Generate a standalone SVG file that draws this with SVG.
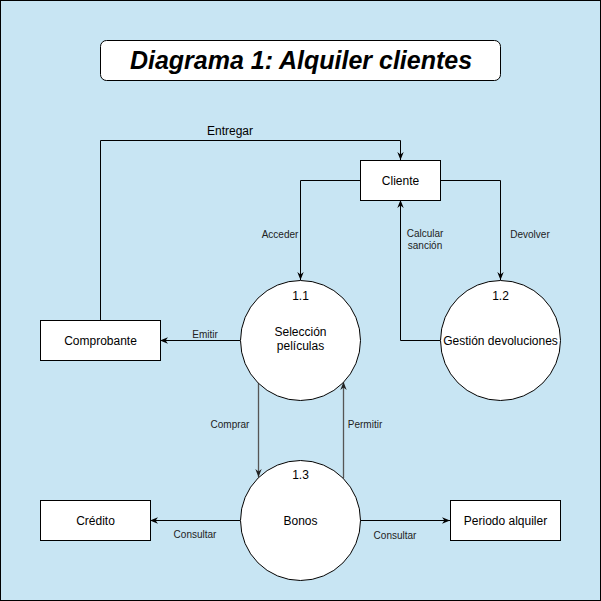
<svg xmlns="http://www.w3.org/2000/svg" width="601" height="601" viewBox="0 0 601 601">
<defs>
<marker id="arr" viewBox="0 0 10 10" refX="10" refY="5" markerWidth="8" markerHeight="8" markerUnits="userSpaceOnUse" orient="auto">
<path d="M0,1 L10,5 L0,9 L3,5 z" fill="#000"/>
</marker>
<marker id="arrg" viewBox="0 0 10 10" refX="10" refY="5" markerWidth="8" markerHeight="8" markerUnits="userSpaceOnUse" orient="auto">
<path d="M0,1 L10,5 L0,9 L3,5 z" fill="#222"/>
</marker>
<style>
.box{fill:#fff;stroke:#000;stroke-width:1}
.t{font-family:"Liberation Sans",Arial,sans-serif;font-size:12px;fill:#000;text-anchor:middle}
.l{font-family:"Liberation Sans",Arial,sans-serif;font-size:10px;fill:#222;text-anchor:middle}
.e{fill:none;stroke:#000;stroke-width:1;marker-end:url(#arr)}
.g{fill:none;stroke:#555;stroke-width:1.3;marker-end:url(#arrg)}
</style>
</defs>
<rect x="0.5" y="0.5" width="600" height="600" fill="#c8e5f3" stroke="#000"/>
<g id="title">
<rect x="100.5" y="40.5" width="400" height="40" rx="6" class="box"/>
<text x="301" y="68.5" font-family="'Liberation Sans',Arial,sans-serif" font-size="25" font-weight="bold" font-style="italic" text-anchor="middle">Diagrama 1: Alquiler clientes</text>
</g>
<g id="connectors">
<path class="e" d="M100.5,320 V140.5 H400.5 V160"/>
<text class="t" x="230" y="135">Entregar</text>
<path class="e" d="M360,180.5 H300.5 V280"/>
<text class="l" x="280" y="237.5">Acceder</text>
<path class="e" d="M440,180.5 H500.5 V280"/>
<text class="l" x="530" y="237.5">Devolver</text>
<path class="e" d="M440,340.5 H400.5 V200"/>
<text class="l" x="425" y="236.5">Calcular</text>
<text class="l" x="425" y="248.5">sanción</text>
<path class="e" d="M240,340.5 H160"/>
<text class="l" x="205" y="337.5">Emitir</text>
<path class="g" d="M258.5,383 V477"/>
<text class="l" x="230" y="427.5">Comprar</text>
<path class="g" d="M343.5,478 V382"/>
<text class="l" x="365" y="427.5">Permitir</text>
<path class="e" d="M240,520.5 H150"/>
<text class="l" x="195" y="537.5">Consultar</text>
<path class="e" d="M360,520.5 H450"/>
<text class="l" x="395" y="538.5">Consultar</text>
</g>
<g id="cliente">
<rect x="360.5" y="160.5" width="80" height="40" class="box"/>
<text class="t" x="400.5" y="184.5">Cliente</text>
</g>
<g id="p11">
<circle cx="300.5" cy="340.5" r="60" class="box"/>
<text class="t" x="300.5" y="299.5">1.1</text>
<text class="t" x="300.5" y="336">Selección</text>
<text class="t" x="300.5" y="350">películas</text>
</g>
<g id="p12">
<circle cx="500.5" cy="340.5" r="60" class="box"/>
<text class="t" x="500.5" y="299.5">1.2</text>
<text class="t" x="500.5" y="344.5">Gestión devoluciones</text>
</g>
<g id="p13">
<circle cx="300.5" cy="520.5" r="60" class="box"/>
<text class="t" x="300.5" y="478.5">1.3</text>
<text class="t" x="300.5" y="524.5">Bonos</text>
</g>
<g id="comprobante">
<rect x="40.5" y="320.5" width="120" height="40" class="box"/>
<text class="t" x="100.5" y="344.5">Comprobante</text>
</g>
<g id="credito">
<rect x="40.5" y="500.5" width="110" height="40" class="box"/>
<text class="t" x="95.5" y="524.5">Crédito</text>
</g>
<g id="periodo">
<rect x="450.5" y="500.5" width="110" height="40" class="box"/>
<text class="t" x="505.5" y="524.5">Periodo alquiler</text>
</g>
</svg>
